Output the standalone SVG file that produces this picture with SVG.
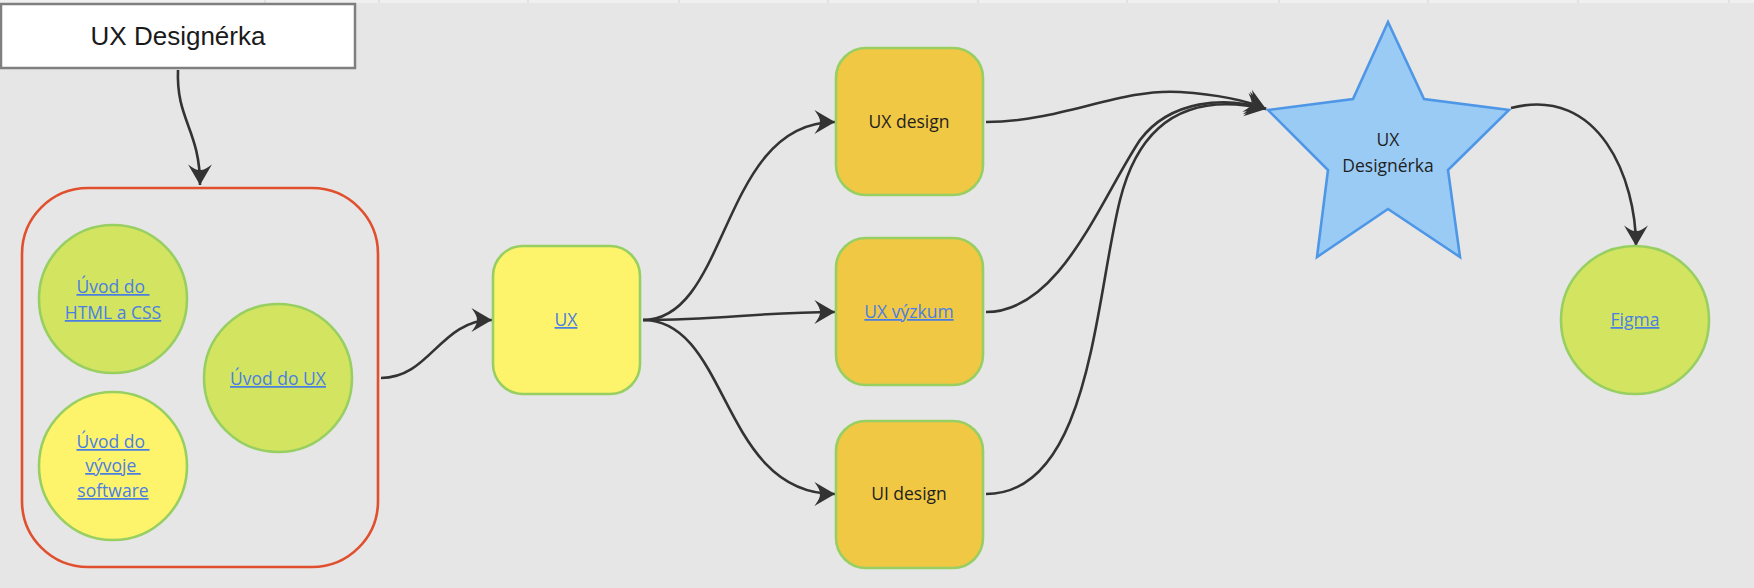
<svg xmlns="http://www.w3.org/2000/svg" width="1754" height="588" viewBox="0 0 1754 588">
<style>
.bg{fill:#e6e6e6}
.edge{fill:none;stroke:#333;stroke-width:2.6}
.green{fill:#d3e560;stroke:#98cf62;stroke-width:2.6}
.yellow{fill:#fef46b;stroke:#98cf62;stroke-width:2.6}
.orange{fill:#f1c844;stroke:#98cf62;stroke-width:2.6}
.star{fill:#9acbf5;stroke:#4e96e6;stroke-width:2.6}
.t{font-family:"Open Sans","Noto Sans","DejaVu Sans",sans-serif;font-size:17.5px;text-anchor:middle;fill:#1f1f1f;white-space:pre}
.link{fill:#4a7ee3;text-decoration:underline}
.title{font-family:"Liberation Sans",Arial,sans-serif;font-size:26px;text-anchor:middle;fill:#1a1a1a}
</style>
<defs>
<marker id="arr" markerUnits="userSpaceOnUse" markerWidth="24" markerHeight="26" viewBox="-21 -12 22 24" refX="0" refY="0" orient="auto">
<path d="M0,0 L-19,-11 Q-13,-3 -14,0 Q-13,3 -19,11 Z" fill="#333"/>
</marker>
</defs>
<rect class="bg" x="0" y="0" width="1754" height="588"/>
<g id="topstrip">
<rect x="0" y="0" width="1754" height="3" fill="#f0f0f0"/>
<g stroke="#d4d4d4" stroke-width="1">
<line x1="265" y1="0" x2="265" y2="3"/><line x1="379" y1="0" x2="379" y2="3"/><line x1="528" y1="0" x2="528" y2="3"/><line x1="679" y1="0" x2="679" y2="3"/><line x1="828" y1="0" x2="828" y2="3"/><line x1="978" y1="0" x2="978" y2="3"/><line x1="1127" y1="0" x2="1127" y2="3"/><line x1="1279" y1="0" x2="1279" y2="3"/><line x1="1428" y1="0" x2="1428" y2="3"/><line x1="1578" y1="0" x2="1578" y2="3"/><line x1="1729" y1="0" x2="1729" y2="3"/>
</g>
</g>
<g id="connectors">
<path class="edge" marker-end="url(#arr)" d="M178,70 C176,120 200,130 200,185"/>
<path class="edge" marker-end="url(#arr)" d="M381,378 C430,378 440,320 492,320"/>
<path class="edge" marker-end="url(#arr)" d="M643,320 C730,320 720,122 835,122"/>
<path class="edge" marker-end="url(#arr)" d="M643,320 C720,320 760,312 835,312"/>
<path class="edge" marker-end="url(#arr)" d="M643,320 C730,320 720,494 835,494"/>
<path class="edge" marker-end="url(#arr)" d="M986,122 C1060,122 1120,88 1180,92 C1225,95 1250,102 1266,109"/>
<path class="edge" marker-end="url(#arr)" d="M986,312 C1060,312 1100,200 1140,140 C1170,100 1225,96 1266,109"/>
<path class="edge" marker-end="url(#arr)" d="M986,494 C1090,494 1095,300 1120,200 C1140,120 1190,92 1266,109"/>
<path class="edge" marker-end="url(#arr)" d="M1511,108 C1600,85 1636,180 1636,246"/>
</g>
<g id="title">
<rect x="1" y="4" width="354" height="64" fill="#ffffff" stroke="#7f7f7f" stroke-width="2.5"/>
<text class="title" x="178" y="45">UX Designérka</text>
</g>
<g id="container">
<rect x="22" y="188" width="356" height="379" rx="66" fill="none" stroke="#e0502e" stroke-width="2.6"/>
</g>
<g id="uvod-html">
<circle class="green" cx="113" cy="299" r="74"/>
<text class="t link" x="113" y="293">Úvod do </text>
<text class="t link" x="113" y="319">HTML a CSS</text>
</g>
<g id="uvod-vyvoje">
<circle class="yellow" cx="113" cy="466" r="74"/>
<text class="t link" x="113" y="448">Úvod do </text>
<text class="t link" x="113" y="472">vývoje </text>
<text class="t link" x="113" y="497">software</text>
</g>
<g id="uvod-ux">
<circle class="green" cx="278" cy="378" r="74"/>
<text class="t link" x="278" y="385">Úvod do UX</text>
</g>
<g id="ux">
<rect class="yellow" x="493" y="246" width="147" height="148" rx="30"/>
<text class="t link" x="566" y="326">UX</text>
</g>
<g id="ux-design">
<rect class="orange" x="836" y="48" width="147" height="147" rx="30"/>
<text class="t" x="909" y="128">UX design</text>
</g>
<g id="ux-vyzkum">
<rect class="orange" x="836" y="238" width="147" height="147" rx="30"/>
<text class="t link" x="909" y="318">UX výzkum</text>
</g>
<g id="ui-design">
<rect class="orange" x="836" y="421" width="147" height="147" rx="30"/>
<text class="t" x="909" y="500">UI design</text>
</g>
<g id="ux-designerka-star">
<polygon class="star" points="1388,22 1424,99 1509,110 1448,170 1460,257 1388,209 1317,257 1328,170 1268,110 1353,99"/>
<text class="t" x="1388" y="146">UX</text>
<text class="t" x="1388" y="172">Designérka</text>
</g>
<g id="figma">
<circle class="green" cx="1635" cy="320" r="74"/>
<text class="t link" x="1635" y="326">Figma</text>
</g>
</svg>
